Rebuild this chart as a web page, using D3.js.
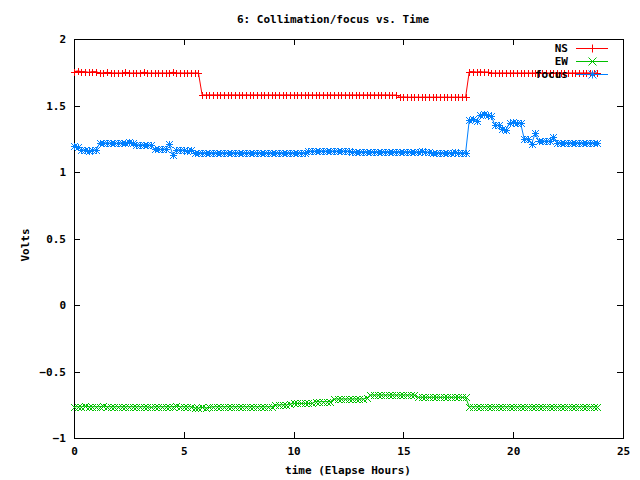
<!DOCTYPE html>
<html>
<head>
<meta charset="utf-8">
<script src="https://cdn.jsdelivr.net/npm/d3@7"></script>
<style>
  body { margin: 0; background: #fff; }
  text { font-family: "DejaVu Sans Mono", monospace; font-weight: bold; font-size: 11px; }
</style>
</head>
<body>
<svg id="chart" width="640" height="480"></svg>
<script>
// one reading every 10 minutes, one row per hour
const ns = [
  1.755,1.76,1.755,1.755,1.75,1.755,
  1.755,1.745,1.745,1.75,1.745,1.745,
  1.745,1.745,1.75,1.745,1.745,1.745,
  1.745,1.75,1.745,1.745,1.745,1.745,
  1.745,1.745,1.745,1.75,1.745,1.745,
  1.745,1.745,1.745,1.745,1.745,1.58,
  1.58,1.58,1.58,1.58,1.58,1.58,
  1.58,1.58,1.58,1.58,1.58,1.58,
  1.58,1.58,1.58,1.58,1.58,1.58,
  1.58,1.58,1.58,1.58,1.58,1.58,
  1.58,1.58,1.58,1.58,1.58,1.58,
  1.58,1.58,1.58,1.58,1.58,1.58,
  1.58,1.58,1.58,1.58,1.58,1.58,
  1.58,1.58,1.58,1.58,1.58,1.58,
  1.58,1.58,1.58,1.578,1.58,1.563,
  1.565,1.563,1.563,1.563,1.563,1.563,
  1.563,1.563,1.563,1.563,1.563,1.563,
  1.563,1.563,1.563,1.563,1.563,1.563,
  1.755,1.755,1.752,1.755,1.752,1.752,
  1.745,1.745,1.745,1.745,1.745,1.745,
  1.745,1.745,1.745,1.745,1.745,1.745,
  1.745,1.745,1.745,1.745,1.745,1.745,
  1.745,1.745,1.745,1.745,1.745,1.745,
  1.745,1.745,1.745,1.745,1.745,1.745
];
const ew = [
  -0.765,-0.765,-0.765,-0.76,-0.765,-0.765,
  -0.765,-0.765,-0.76,-0.765,-0.765,-0.765,
  -0.765,-0.765,-0.765,-0.765,-0.765,-0.765,
  -0.765,-0.765,-0.765,-0.77,-0.765,-0.765,
  -0.765,-0.765,-0.765,-0.765,-0.76,-0.765,
  -0.765,-0.765,-0.765,-0.775,-0.775,-0.77,
  -0.775,-0.77,-0.765,-0.765,-0.765,-0.765,
  -0.765,-0.765,-0.765,-0.765,-0.765,-0.765,
  -0.765,-0.765,-0.765,-0.765,-0.765,-0.765,
  -0.765,-0.752,-0.752,-0.75,-0.752,-0.745,
  -0.74,-0.74,-0.74,-0.74,-0.74,-0.74,
  -0.727,-0.727,-0.727,-0.727,-0.727,-0.707,
  -0.707,-0.707,-0.707,-0.707,-0.707,-0.707,
  -0.707,-0.707,-0.7,-0.677,-0.677,-0.677,
  -0.677,-0.677,-0.677,-0.677,-0.677,-0.677,
  -0.677,-0.677,-0.677,-0.677,-0.694,-0.694,
  -0.694,-0.694,-0.694,-0.694,-0.694,-0.694,
  -0.694,-0.694,-0.694,-0.694,-0.694,-0.694,
  -0.765,-0.765,-0.765,-0.765,-0.765,-0.765,
  -0.765,-0.765,-0.765,-0.765,-0.765,-0.765,
  -0.765,-0.765,-0.765,-0.765,-0.765,-0.765,
  -0.765,-0.765,-0.765,-0.765,-0.765,-0.765,
  -0.765,-0.765,-0.765,-0.765,-0.765,-0.765,
  -0.765,-0.765,-0.765,-0.765,-0.765,-0.765
];
const focus = [
  1.195,1.19,1.165,1.165,1.16,1.165,
  1.165,1.215,1.215,1.22,1.215,1.215,
  1.215,1.22,1.22,1.225,1.22,1.203,
  1.203,1.205,1.2,1.203,1.17,1.17,
  1.17,1.172,1.21,1.13,1.165,1.165,
  1.165,1.16,1.165,1.145,1.145,1.145,
  1.145,1.145,1.145,1.145,1.145,1.145,
  1.145,1.145,1.145,1.145,1.145,1.145,
  1.145,1.145,1.145,1.145,1.145,1.145,
  1.145,1.145,1.145,1.145,1.145,1.145,
  1.145,1.145,1.145,1.145,1.157,1.157,
  1.157,1.16,1.157,1.157,1.157,1.157,
  1.157,1.157,1.157,1.157,1.153,1.153,
  1.153,1.153,1.153,1.153,1.153,1.153,
  1.153,1.153,1.153,1.153,1.153,1.153,
  1.153,1.153,1.153,1.153,1.15,1.155,
  1.15,1.148,1.145,1.145,1.145,1.145,
  1.145,1.145,1.15,1.145,1.145,1.145,
  1.39,1.4,1.385,1.43,1.435,1.43,
  1.42,1.353,1.35,1.32,1.315,1.37,
  1.375,1.37,1.37,1.25,1.25,1.21,
  1.29,1.233,1.235,1.23,1.233,1.26,
  1.22,1.22,1.22,1.22,1.22,1.22,
  1.22,1.22,1.22,1.22,1.22,1.22
];
const hours = d3.range(ns.length).map(i => i / 6);
const xTicks = [0, 5, 10, 15, 20, 25];
const yTicks = [-1, -0.5, 0, 0.5, 1, 1.5, 2];

const series = [
  { name: "NS", values: ns, color: "#ff0000", mark: "plus" },
  { name: "EW", values: ew, color: "#00c000", mark: "cross" },
  { name: "focus", values: focus, color: "#0080ff", mark: "star" }
];

const svg = d3.select("#chart");
const plotL = 74, plotR = 623, plotT = 39, plotB = 438;

const x = d3.scaleLinear().domain([0, 25]).range([plotL, plotR]);
const y = d3.scaleLinear().domain([-1, 2]).range([plotB, plotT]);

// axes with inward ticks, mirrored on top/right
svg.append("g")
  .attr("transform", "translate(0," + plotB + ")")
  .call(d3.axisBottom(x).tickValues(xTicks).tickSize(-6).tickPadding(9).tickFormat(d3.format("d")));
svg.append("g")
  .attr("transform", "translate(0," + plotT + ")")
  .call(d3.axisTop(x).tickValues(xTicks).tickSize(-6).tickFormat(""));
svg.append("g")
  .attr("transform", "translate(" + plotL + ",0)")
  .call(d3.axisLeft(y).tickValues(yTicks).tickSize(-6).tickPadding(8).tickFormat(d => d3.format("")(d)));
svg.append("g")
  .attr("transform", "translate(" + plotR + ",0)")
  .call(d3.axisRight(y).tickValues(yTicks).tickSize(-6).tickFormat(""));

svg.selectAll(".domain").remove();
svg.selectAll(".tick line").attr("stroke", "#000").attr("shape-rendering", "crispEdges");
svg.selectAll(".tick text").attr("fill", "#000")
  .style("font-family", "'DejaVu Sans Mono', monospace").style("font-weight", "bold").style("font-size", "11px");

svg.append("rect")
  .attr("x", plotL).attr("y", plotT)
  .attr("width", plotR - plotL).attr("height", plotB - plotT)
  .attr("fill", "none").attr("stroke", "#000").attr("shape-rendering", "crispEdges");

// titles
svg.append("text").attr("x", 333).attr("y", 23).attr("text-anchor", "middle")
  .text("6: Collimation/focus vs. Time");
svg.append("text").attr("x", 348).attr("y", 474).attr("text-anchor", "middle")
  .text("time (Elapse Hours)");
svg.append("text").attr("transform", "translate(29,245) rotate(-90)").attr("text-anchor", "middle")
  .text("Volts");

function markPath(kind, r) {
  if (kind === "plus") return `M${-r},0H${r}M0,${-r}V${r}`;
  if (kind === "cross") return `M${-r},${-r}L${r},${r}M${-r},${r}L${r},${-r}`;
  return `M${-r},0H${r}M0,${-r}V${r}M${-r},${-r}L${r},${r}M${-r},${r}L${r},${-r}`;
}

const line = d3.line().x(d => x(d[0])).y(d => y(d[1]));

series.forEach((s, k) => {
  const ly = 48 + k * 13;
  // key entry
  svg.append("text").attr("x", 568).attr("y", ly + 4).attr("text-anchor", "end").text(s.name);
  svg.append("line").attr("x1", 576).attr("x2", 608).attr("y1", ly + 0.5).attr("y2", ly + 0.5)
    .attr("stroke", s.color);
  svg.append("path").attr("transform", "translate(592.5," + (ly + 0.5) + ")")
    .attr("d", markPath(s.mark, 4)).attr("stroke", s.color).attr("fill", "none");

  const pts = s.values.map((v, i) => [hours[i], v]);
  svg.append("path").datum(pts).attr("d", line)
    .attr("fill", "none").attr("stroke", s.color).attr("stroke-width", 1);
  svg.append("g").selectAll("path").data(pts).join("path")
    .attr("transform", d => "translate(" + (Math.round(x(d[0])) + 0.5) + "," + (Math.round(y(d[1])) + 0.5) + ")")
    .attr("d", markPath(s.mark, 3.5))
    .attr("stroke", s.color).attr("fill", "none").attr("stroke-width", 1);
});
</script>
</body>
</html>
